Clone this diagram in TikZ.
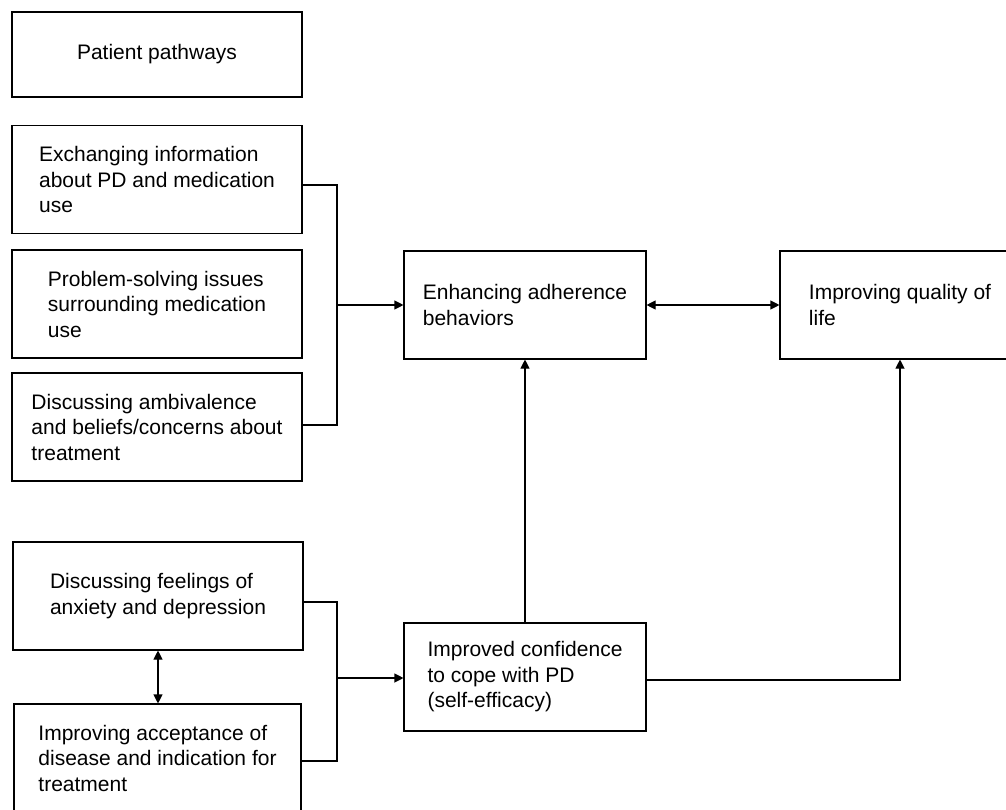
\documentclass[tikz,border=0pt]{standalone}
\usepackage{fontspec}
\setmainfont{Liberation Sans}
\usetikzlibrary{arrows.meta}
\begin{document}
\begin{tikzpicture}[x=1pt, y=-1pt, line width=1.1pt,
    >={Triangle[length=9pt, width=9pt]},
    box/.style={draw, rectangle, align=left, inner sep=0pt, minimum height=108pt,
      font=\fontsize{21}{25.5}\selectfont}]
      \useasboundingbox (0, 0) rectangle (1006, 810);
      \clip (0, 0) rectangle (1006, 810);

      \node[box, minimum width=290pt, minimum height=85pt] (pp) at (157, 54.5) {Patient pathways};
      \node[box, minimum width=290pt] (info) at (157, 179.5) {Exchanging information\\about PD and medication\\use};
      \node[box, minimum width=290pt] (solve) at (157, 304) {Problem-solving issues\\surrounding medication\\use};
      \node[box, minimum width=290pt] (ambiv) at (157, 427) {Discussing ambivalence\\and beliefs/concerns about\\treatment};
      \node[box, minimum width=290pt] (feel) at (158, 596) {Discussing feelings of\\anxiety and depression};
      \node[box, minimum width=287pt] (accept) at (157.5, 758) {Improving acceptance of\\disease and indication for\\treatment};
      \node[box, minimum width=242pt] (adh) at (525, 305) {Enhancing adherence\\behaviors};
      \node[box, minimum width=240pt] (qol) at (900, 305) {Improving quality of\\life\hspace{23pt}};
      \node[box, minimum width=242pt] (conf) at (525, 677) {Improved confidence\\to cope with PD\\(self-efficacy)};

      \coordinate (j1) at (337, 305);
      \coordinate (j2) at (337, 678);

      \draw ([yshift=-5.5pt]info.east) -| (j1) |- ([yshift=2pt]ambiv.east);
      \draw[->] (j1) -- (adh.west);
      \draw ([yshift=-6pt]feel.east) -| (j2) |- ([yshift=-3pt]accept.east);
      \draw[->] (j2) -- ([yshift=-1pt]conf.west);
      \draw[<->] (feel.south) -- (feel.south |- accept.north);
      \draw[<->] (adh) -- (qol);
      \draw[->] (conf) -- (adh);
      \draw[->] ([yshift=-3pt]conf.east) -| (qol.south);
    \end{tikzpicture}
\end{document}
